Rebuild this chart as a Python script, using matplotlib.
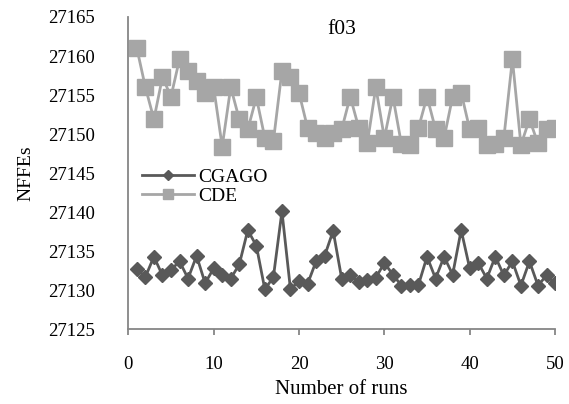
import matplotlib
matplotlib.use("Agg")
import matplotlib.pyplot as plt

runs = list(range(1, 51))
cgago = [27132.7, 27131.7, 27134.3, 27131.9, 27132.6, 27133.7, 27131.5, 27134.4, 27130.9, 27132.8,
         27131.9, 27131.5, 27133.3, 27137.7, 27135.7, 27130.1, 27131.7, 27140.1, 27130.1, 27131.2,
         27130.8, 27133.7, 27134.4, 27137.6, 27131.5, 27131.9, 27131.1, 27131.3, 27131.6, 27133.5,
         27132.0, 27130.6, 27130.7, 27130.7, 27134.3, 27131.5, 27134.3, 27132.0, 27137.7, 27132.8,
         27133.5, 27131.5, 27134.3, 27131.9, 27133.7, 27130.6, 27133.7, 27130.6, 27131.9, 27130.9]
cde = [27161.0, 27156.0, 27151.9, 27157.3, 27154.8, 27159.6, 27158.1, 27156.8, 27155.3, 27156.0,
       27148.4, 27156.0, 27151.9, 27150.6, 27154.7, 27149.5, 27149.1, 27158.1, 27157.3, 27155.3,
       27150.8, 27150.1, 27149.5, 27150.1, 27150.6, 27154.8, 27150.8, 27148.8, 27156.0, 27149.5,
       27154.8, 27148.7, 27148.6, 27150.8, 27154.8, 27150.6, 27149.5, 27154.8, 27155.3, 27150.6,
       27150.8, 27148.6, 27148.7, 27149.5, 27159.6, 27148.6, 27151.9, 27148.8, 27150.6, 27150.8]

xticks = [0, 10, 20, 30, 40, 50]
yticks = [27125, 27130, 27135, 27140, 27145, 27150, 27155, 27160, 27165]

plt.rcParams['font.family'] = ['Liberation Serif', 'DejaVu Serif']
fs = 13.5

fig = plt.figure(figsize=(5.69, 4.04), dpi=100)
ax = fig.add_axes([0.2255, 0.185, 0.75, 0.773])

ax.plot(runs, cgago, color='#595959', lw=2, marker='D', ms=7.5, label='CGAGO', zorder=3)
ax.plot(runs, cde, color='#a6a6a6', lw=2, marker='s', ms=11, label='CDE', zorder=2)

ax.set_xlim(0, 50)
ax.set_ylim(27125, 27165)
ax.set_xticks(xticks)
ax.set_yticks(yticks)
ax.set_yticklabels([str(v) for v in yticks])
for s in ['top', 'right']:
    ax.spines[s].set_visible(False)
for s in ['left', 'bottom']:
    ax.spines[s].set_color('#868686')
    ax.spines[s].set_linewidth(1.3)
ax.tick_params(axis='x', direction='out', length=4, color='#868686', width=1.3, labelsize=fs, pad=15)
ax.tick_params(axis='y', length=0, labelsize=fs, pad=24)
for lab in ax.get_yticklabels() + ax.get_xticklabels():
    lab.set_color('black')

ax.set_xlabel('Number of runs', fontsize=15, labelpad=5)
ax.set_ylabel('NFFEs', fontsize=14, labelpad=10)
ax.text(0.5, 0.99, 'f03', transform=ax.transAxes, ha='center', va='top', fontsize=15.5)

leg = ax.legend(loc='upper left', bbox_to_anchor=(0.0, 0.56), frameon=False, fontsize=14,
                handlelength=2.7, handletextpad=0.2, labelspacing=0.1, markerscale=0.7,
                borderaxespad=0.3)

fig.savefig('out.png', dpi=100)
